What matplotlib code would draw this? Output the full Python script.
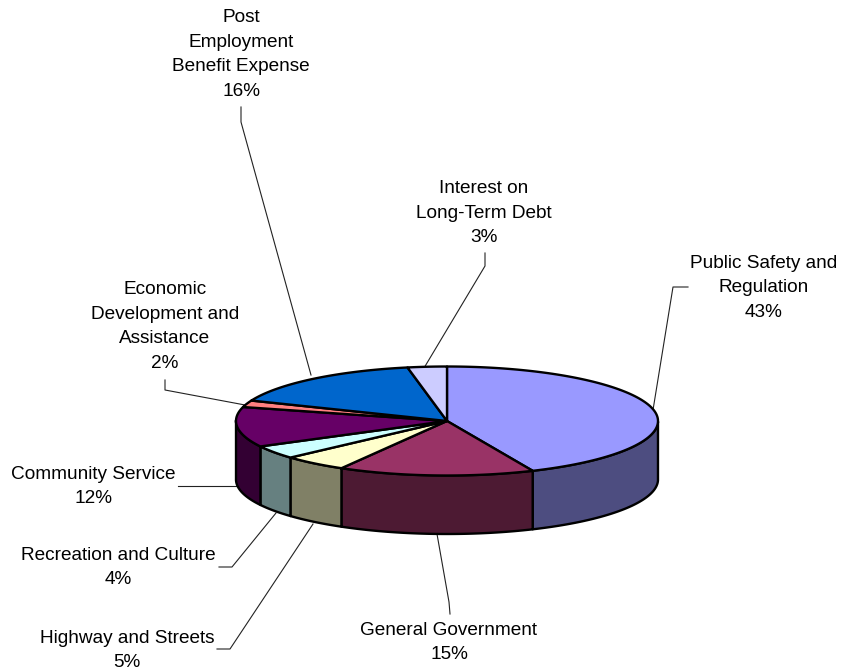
import numpy as np
import matplotlib
matplotlib.use("Agg")
import matplotlib.pyplot as plt
from matplotlib.patches import Polygon

plt.rcParams['font.family'] = ['Liberation Sans', 'DejaVu Sans']

labels = ["Public Safety and\nRegulation", "General Government", "Highway and Streets",
          "Recreation and Culture", "Community Service",
          "Economic\nDevelopment and\nAssistance", "Post\nEmployment\nBenefit Expense",
          "Interest on\nLong-Term Debt"]
shares = [43, 15, 5, 4, 12, 2, 16, 3]
top_colors = ["#9999FF", "#993366", "#FFFFCC", "#CCFFFF", "#660066", "#FF8080", "#0066CC", "#CCCCFF"]
side_colors = ["#4D4D80", "#4D1A33", "#808066", "#668080", "#330033", "#804040", "#003366", "#666680"]

# pie geometry in pixels
CX, CY = 447, 421
RX, RY = 211, 54.5
DEPTH = 58.5
# the near side of a tilted disc takes up slightly more sweep
TILT_SKEW = 1.3

# label centre and leader polyline for each slice
label_pos = [(764, 288), (449, 642.5), (127, 650.5), (118, 567.5), (93, 486.5),
             (165, 326.5), (241, 54.5), (484, 213)]
leaders = [
    [(688, 287), (673, 287), (653, 410)],
    [(450, 614), (449, 602), (437, 534)],
    [(217, 649), (230, 649), (313, 524)],
    [(219, 567), (232, 567), (276, 513)],
    [(178, 486), (236, 486)],
    [(165, 380), (165, 390), (245, 405)],
    [(241, 107), (241, 122), (311, 375)],
    [(485, 253), (485, 266), (424, 368)],
]


def rim(a, b, n=120):
    # points along the top ellipse, angles clockwise from 12 o'clock
    deg = np.linspace(a, b, n)
    t = np.radians(deg)
    t = t + np.radians(TILT_SKEW) * (1 - np.cos(t)) / 2
    return np.column_stack([CX + RX * np.sin(t), CY - RY * np.cos(t)])


fig = plt.figure(figsize=(8.43, 6.70), dpi=100)
ax = fig.add_axes([0, 0, 1, 1])
ax.set_xlim(0, 843)
ax.set_ylim(670, 0)
ax.axis("off")

edges = np.cumsum([0] + shares) / sum(shares) * 360

# front wall of the disc: only the part between 3 and 9 o'clock shows
for i in range(len(shares)):
    a, b = max(edges[i], 90), min(edges[i + 1], 270)
    if b <= a:
        continue
    arc = rim(a, b)
    low = arc[::-1] + [0, DEPTH]
    ax.add_patch(Polygon(np.vstack([arc, low]), closed=True, fc=side_colors[i],
                         ec="black", lw=1.7, joinstyle="round", zorder=2))

# top face
for i in range(len(shares)):
    arc = rim(edges[i], edges[i + 1])
    ax.add_patch(Polygon(np.vstack([[CX, CY], arc]), closed=True, fc=top_colors[i],
                         ec="black", lw=1.7, joinstyle="round", zorder=3))

for pts in leaders:
    xs, ys = zip(*pts)
    ax.plot(xs, ys, color="#222222", lw=0.8, zorder=1)

for name, pct, (x, y) in zip(labels, shares, label_pos):
    ax.text(x, y, f"{name}\n{pct}%", ha="center", va="center", fontsize=13.7,
            linespacing=1.57, color="black", zorder=4)

fig.savefig("out.png", dpi=100)
